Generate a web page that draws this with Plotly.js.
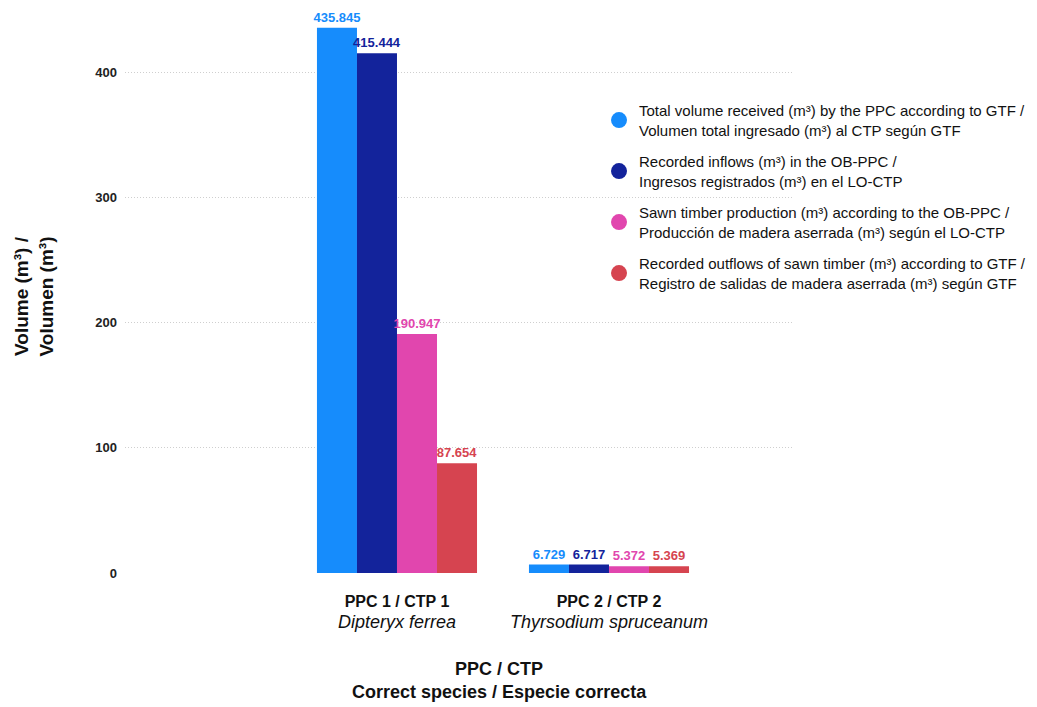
<!DOCTYPE html>
<html>
<head>
<meta charset="utf-8">
<script src="https://cdn.plot.ly/plotly-3.0.1.min.js"></script>
<style>html,body{margin:0;padding:0;background:#fff;}#chart{width:1037px;height:707px;}</style>
</head>
<body>
<div id="chart"></div>
<script>
const categories = ["PPC 1 / CTP 1", "PPC 2 / CTP 2"];
const species = ["Dipteryx ferrea", "Thyrsodium spruceanum"];
const seriesNames = [
  "Total volume received (m³) by the PPC according to GTF /<br>Volumen total ingresado (m³) al CTP según GTF",
  "Recorded inflows (m³) in the OB-PPC /<br>Ingresos registrados (m³) en el LO-CTP",
  "Sawn timber production (m³) according to the OB-PPC /<br>Producción de madera aserrada (m³) según el LO-CTP",
  "Recorded outflows of sawn timber (m³) according to GTF /<br>Registro de salidas de madera aserrada (m³) según GTF"
];
const totalReceived = [435.845, 6.729];
const recordedInflows = [415.444, 6.717];
const sawnProduction = [190.947, 5.372];
const recordedOutflows = [87.654, 5.369];
const seriesValues = [totalReceived, recordedInflows, sawnProduction, recordedOutflows];
const colors = ["#168cfc", "#13239b", "#e146ae", "#d64450"];
const yTicks = [0, 100, 200, 300, 400];
const xTitle = "<b>PPC / CTP<br>Correct species / Especie correcta</b>";
const yTitle = "<b>Volume (m³) /<br>Volumen (m³)</b>";

const FONT = "Liberation Sans, Arial, sans-serif";

const tickText = categories.map((c, i) =>
  `<b>${c}</b><br><span style="font-size:18px;font-style:italic">${species[i]}</span>`);

const traces = [];
seriesValues.forEach((vals, i) => {
  traces.push({
    type: "bar",
    x: categories,
    y: vals,
    marker: {color: colors[i]},
    text: vals.map(v => v.toFixed(3)),
    textposition: "outside",
    constraintext: "none",
    textfont: {family: FONT, size: 13, color: colors[i]},
    texttemplate: "<b>%{text}</b>",
    cliponaxis: false,
    showlegend: false,
    hoverinfo: "skip"
  });
});
seriesValues.forEach((vals, i) => {
  traces.push({
    type: "scatter",
    mode: "markers",
    x: [null], y: [null],
    name: seriesNames[i],
    legendgroup: "g" + i,
    marker: {color: colors[i], size: 18, symbol: "circle"},
    showlegend: true
  });
});

const layout = {
  width: 1037, height: 707,
  margin: {l: 125, r: 244, t: 20, b: 134, autoexpand: false},
  paper_bgcolor: "#fff", plot_bgcolor: "#fff",
  barmode: "group",
  bargap: 0.245,
  bargroupgap: 0,
  font: {family: FONT, color: "#111"},
  xaxis: {
    type: "category",
    tickvals: categories,
    ticktext: tickText,
    range: [-1.283, 1.868],
    showgrid: false, zeroline: false, showline: false,
    ticks: "", ticklabelstandoff: 17,
    tickfont: {family: FONT, size: 16, color: "#111"}
  },
  yaxis: {
    range: [0, 442],
    tickvals: yTicks,
    ticktext: yTicks.map(v => "<b>" + v + "</b>"),
    showgrid: true, gridcolor: "#cfcfcf", griddash: "1px,2px", gridwidth: 1,
    zeroline: false, showline: false, ticks: "",
    ticklabelstandoff: 7,
    tickfont: {family: FONT, size: 13, color: "#222"},
    title: {
      text: yTitle,
      font: {family: FONT, size: 19, color: "#111"},
      standoff: 36
    }
  },
  annotations: [{
    text: xTitle,
    xref: "paper", yref: "paper",
    x: 0.56, y: -0.151, xanchor: "center", yanchor: "top",
    showarrow: false,
    font: {family: FONT, size: 18, color: "#111"}
  }],
  legend: {
    x: 0.7096, xanchor: "left",
    y: 0.866, yanchor: "top",
    bgcolor: "rgba(0,0,0,0)",
    font: {family: FONT, size: 15, color: "#111"},
    tracegroupgap: 9,
    itemwidth: 30
  },
  showlegend: true
};

Plotly.newPlot("chart", traces, layout, {displayModeBar: false, staticPlot: true});
</script>
</body>
</html>
